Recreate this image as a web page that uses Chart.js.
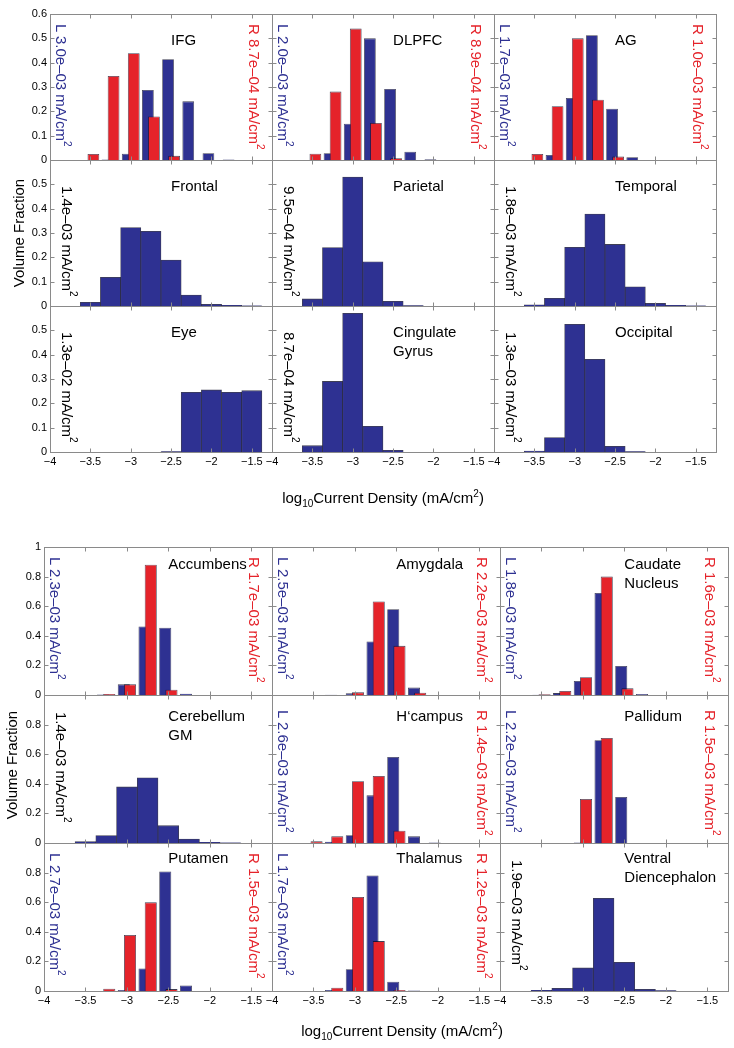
<!DOCTYPE html>
<html>
<head>
<meta charset="utf-8">
<script src="https://cdn.jsdelivr.net/npm/chart.js@4.4.1/dist/chart.umd.min.js"></script>
<style>
html, body { margin: 0; padding: 0; background: #fff; }
#fig { position: relative; width: 734px; height: 1048px; overflow: hidden;
       font-family: "Liberation Sans", Arial, Helvetica, sans-serif; color: #000; }
.pane { position: absolute; }
.ttl { position: absolute; font-size: 15px; line-height: 19px; white-space: nowrap; }
.vt { position: absolute; writing-mode: vertical-rl; font-size: 15px; line-height: 15px; white-space: nowrap; }
.vt sup { font-size: 10px; }
.ax { position: absolute; font-size: 15px; white-space: nowrap; transform: translate(-50%, -50%); }
.ax sub, .ax sup { font-size: 10px; }
</style>
</head>
<body>
<div id="fig"></div>
<script>
// bin centres (log10 current density)
const singleBins = [-3.5, -3.25, -3, -2.75, -2.5, -2.25, -2, -1.75, -1.5];
const pairBins = [-3.625, -3.375, -3.125, -2.875, -2.625, -2.375, -2.125, -1.875];
const xTicks = [-4, -3.5, -3, -2.5, -2, -1.5];
const yTicksTop = [0, 0.1, 0.2, 0.3, 0.4, 0.5, 0.6];
const yTicksBottom = [0, 0.2, 0.4, 0.6, 0.8, 1];

// cortical regions (L = left hemisphere, R = right hemisphere), volume fraction per bin
const ifgL = [0, 0.002, 0.026, 0.288, 0.414, 0.241, 0.028, 0.002];
const ifgR = [0, 0.025, 0.345, 0.439, 0.179, 0.017, 0, 0];
const dlpfcL = [0, 0.028, 0.149, 0.50, 0.292, 0.034, 0.003, 0];
const dlpfcR = [0, 0.026, 0.281, 0.54, 0.152, 0.007, 0, 0];
const agL = [0, 0.021, 0.255, 0.513, 0.211, 0.011, 0, 0];
const agR = [0, 0.025, 0.221, 0.50, 0.248, 0.014, 0, 0];
const frontal = [0.015, 0.118, 0.322, 0.307, 0.189, 0.045, 0.007, 0.003, 0.001];
const parietal = [0.029, 0.24, 0.53, 0.182, 0.019, 0.002, 0, 0, 0];
const temporal = [0.005, 0.032, 0.241, 0.378, 0.253, 0.079, 0.011, 0.003, 0.001];
const eye = [0, 0, 0, 0, 0.002, 0.245, 0.255, 0.245, 0.252];
const cingulate = [0.026, 0.29, 0.57, 0.106, 0.007, 0, 0, 0, 0];
const occipital = [0.004, 0.059, 0.525, 0.381, 0.023, 0.002, 0, 0, 0];

// deep regions
const accumbensL = [0, 0.003, 0.072, 0.463, 0.454, 0.009, 0, 0];
const accumbensR = [0, 0, 0.007, 0.072, 0.88, 0.036, 0, 0];
const amygdalaL = [0, 0.002, 0.011, 0.361, 0.58, 0.05, 0, 0];
const amygdalaR = [0, 0, 0, 0.018, 0.632, 0.332, 0.016, 0];
const caudateL = [0.002, 0.013, 0.095, 0.69, 0.196, 0.006, 0, 0];
const caudateR = [0, 0.005, 0.027, 0.12, 0.80, 0.045, 0, 0];
const cerebellum = [0.009, 0.05, 0.379, 0.44, 0.117, 0.027, 0.004, 0.001, 0];
const hcampusL = [0, 0.009, 0.052, 0.322, 0.581, 0.045, 0.003, 0];
const hcampusR = [0, 0.011, 0.045, 0.417, 0.453, 0.083, 0, 0];
const pallidumL = [0, 0, 0.003, 0.694, 0.311, 0, 0, 0];
const pallidumR = [0, 0, 0, 0.297, 0.71, 0, 0, 0];
const putamenL = [0, 0, 0.007, 0.152, 0.807, 0.038, 0, 0];
const putamenR = [0, 0, 0.016, 0.378, 0.599, 0.013, 0, 0];
const thalamusL = [0, 0.007, 0.147, 0.78, 0.063, 0.004, 0, 0];
const thalamusR = [0, 0, 0.022, 0.635, 0.337, 0.007, 0, 0];
const ventralDc = [0.004, 0.018, 0.156, 0.626, 0.194, 0.011, 0.002, 0, 0];

const BLUE = '#2e3192', RED = '#e5232a';

const groups = [
  { left: 50, top: 14, w: 222, h: 146, ymax: 0.6, yTicks: yTicksTop,
    titleDy: [25, 25, 25], lrDy: [10, 10, 10], sDy: [26, 26, 26], xTitleX: 383, xTitleY: 498, yTitle: [18, 233] },
  { left: 44, top: 547, w: 228, h: 148, ymax: 1, yTicks: yTicksBottom,
    titleDy: [16.5, 20, 14], lrDy: [10, 15, 10], sDy: [17, 17, 17], xTitleX: 402, xTitleY: 1031, yTitle: [11, 765] }
];

const panels = [
  { g: 0, r: 0, c: 0, title: ['IFG'], L: '3.0e–03', R: '8.7e–04', series: [ifgR, ifgL] },
  { g: 0, r: 0, c: 1, title: ['DLPFC'], L: '2.0e–03', R: '8.9e–04', series: [dlpfcR, dlpfcL] },
  { g: 0, r: 0, c: 2, title: ['AG'], L: '1.7e–03', R: '1.0e–03', series: [agR, agL] },
  { g: 0, r: 1, c: 0, title: ['Frontal'], S: '1.4e–03', series: [frontal] },
  { g: 0, r: 1, c: 1, title: ['Parietal'], S: '9.5e–04', series: [parietal] },
  { g: 0, r: 1, c: 2, title: ['Temporal'], S: '1.8e–03', series: [temporal] },
  { g: 0, r: 2, c: 0, title: ['Eye'], S: '1.3e–02', series: [eye] },
  { g: 0, r: 2, c: 1, title: ['Cingulate', 'Gyrus'], S: '8.7e–04', series: [cingulate] },
  { g: 0, r: 2, c: 2, title: ['Occipital'], S: '1.3e–03', series: [occipital] },
  { g: 1, r: 0, c: 0, title: ['Accumbens'], L: '2.3e–03', R: '1.7e–03', series: [accumbensR, accumbensL] },
  { g: 1, r: 0, c: 1, title: ['Amygdala'], L: '2.5e–03', R: '2.2e–03', series: [amygdalaR, amygdalaL] },
  { g: 1, r: 0, c: 2, title: ['Caudate', 'Nucleus'], L: '1.8e–03', R: '1.6e–03', series: [caudateR, caudateL] },
  { g: 1, r: 1, c: 0, title: ['Cerebellum', 'GM'], S: '1.4e–03', series: [cerebellum] },
  { g: 1, r: 1, c: 1, title: ['H‘campus'], L: '2.6e–03', R: '1.4e–03', series: [hcampusR, hcampusL] },
  { g: 1, r: 1, c: 2, title: ['Pallidum'], L: '2.2e–03', R: '1.5e–03', series: [pallidumR, pallidumL] },
  { g: 1, r: 2, c: 0, title: ['Putamen'], L: '2.7e–03', R: '1.5e–03', series: [putamenR, putamenL] },
  { g: 1, r: 2, c: 1, title: ['Thalamus'], L: '1.7e–03', R: '1.2e–03', series: [thalamusR, thalamusL] },
  { g: 1, r: 2, c: 2, title: ['Ventral', 'Diencephalon'], S: '1.9e–03', series: [ventralDc] }
];

// frame + inward tick marks, matlab style
const boxPlugin = {
  id: 'box',
  afterDraw(chart) {
    const { ctx, chartArea: a, scales: { x, y } } = chart;
    const L = Math.round(a.left) + 0.5, R = Math.round(a.right) + 0.5;
    const T = Math.round(a.top) + 0.5, B = Math.round(a.bottom) + 0.5;
    ctx.save();
    ctx.strokeStyle = '#8a8a8a';
    ctx.lineWidth = 1;
    ctx.beginPath();
    x.ticks.forEach(t => {
      const px = Math.round(x.getPixelForValue(t.value)) + 0.5;
      ctx.moveTo(px, B); ctx.lineTo(px, B - 4);
      ctx.moveTo(px, T); ctx.lineTo(px, T + 4);
    });
    y.ticks.forEach(t => {
      const py = Math.round(y.getPixelForValue(t.value)) + 0.5;
      ctx.moveTo(L, py); ctx.lineTo(L + 4, py);
      ctx.moveTo(R, py); ctx.lineTo(R - 4, py);
    });
    ctx.stroke();
    ctx.strokeRect(L, T, R - L, B - T);
    ctx.restore();
  }
};

const ML = 46, MR = 10, MT = 10, MB = 24;
const fig = document.getElementById('fig');
const tickFont = { family: '"Liberation Sans", Arial, sans-serif', size: 11 };
const minus = v => (v < 0 ? '−' : '') + Math.abs(v);

function addText(cls, html, left, top, color) {
  const d = document.createElement('div');
  d.className = cls;
  d.innerHTML = html;
  d.style.left = left + 'px';
  d.style.top = top + 'px';
  if (color) d.style.color = color;
  fig.appendChild(d);
  return d;
}

panels.forEach(p => {
  const G = groups[p.g];
  const pL = G.left + p.c * G.w, pT = G.top + p.r * G.h;
  const wrap = document.createElement('div');
  wrap.className = 'pane';
  wrap.style.left = (pL - ML) + 'px';
  wrap.style.top = (pT - MT) + 'px';
  const cv = document.createElement('canvas');
  cv.width = G.w + ML + MR;
  cv.height = G.h + MT + MB;
  cv.style.width = cv.width + 'px';
  cv.style.height = cv.height + 'px';
  wrap.appendChild(cv);
  fig.appendChild(wrap);

  const pair = p.series.length === 2;
  const bins = pair ? pairBins : singleBins;
  const colors = pair ? [RED, BLUE] : [BLUE];
  const showY = p.c === 0, showX = p.r === 2;

  new Chart(cv, {
    type: 'bar',
    data: {
      datasets: p.series.map((vals, i) => ({
        data: bins.map((b, k) => ({ x: b, y: vals[k] })),
        backgroundColor: colors[i],
        borderColor: 'rgba(15,15,40,0.8)',
        borderWidth: 0.8,
        categoryPercentage: pair ? 1.4 : 1,
        barPercentage: pair ? 0.83 : 1
      }))
    },
    options: {
      responsive: false,
      animation: false,
      layout: { padding: { top: MT, right: MR, left: 0, bottom: 0 } },
      plugins: { legend: { display: false }, tooltip: { enabled: false } },
      scales: {
        x: {
          type: 'linear', min: -4, max: -1.25, offset: false,
          afterBuildTicks: s => { s.ticks = xTicks.map(v => ({ value: v })); },
          afterFit: s => { s.height = MB; },
          grid: { display: false, drawTicks: false, offset: false },
          border: { display: false },
          ticks: { display: showX, font: tickFont, color: '#000', padding: 3,
                   autoSkip: false, maxRotation: 0, callback: v => minus(v) }
        },
        y: {
          min: 0, max: G.ymax,
          afterBuildTicks: s => { s.ticks = G.yTicks.map(v => ({ value: v })); },
          afterFit: s => { s.width = ML; },
          grid: { display: false, drawTicks: false },
          border: { display: false },
          ticks: { display: showY, font: tickFont, color: '#000', padding: 3,
                   callback: v => (p.r > 0 && v === G.ymax) ? '' : String(v) }
        }
      }
    },
    plugins: [boxPlugin]
  });

  // region name, left aligned at x = -2.5
  const tx = pL + (-2.5 - (-4)) / 2.75 * G.w;
  addText('ttl', p.title.join('<br>'), tx, pT + G.titleDy[p.r] - 9.5);

  // mean current density labels
  if (p.L) {
    addText('vt', 'L ' + p.L + ' mA/cm<sup>2</sup>', pL + 4, pT + G.lrDy[p.r], BLUE);
    addText('vt', 'R ' + p.R + ' mA/cm<sup>2</sup>', pL + G.w - 25, pT + G.lrDy[p.r], RED);
  } else {
    addText('vt', p.S + ' mA/cm<sup>2</sup>', pL + 10, pT + G.sDy[p.r], '#000');
  }
});

// axis titles
groups.forEach(G => {
  const yl = addText('ax', 'Volume Fraction', G.yTitle[0], G.yTitle[1]);
  yl.style.transform = 'translate(-50%, -50%) rotate(-90deg)';
  addText('ax', 'log<sub>10</sub>Current Density (mA/cm<sup>2</sup>)', G.xTitleX, G.xTitleY);
});
</script>
</body>
</html>
